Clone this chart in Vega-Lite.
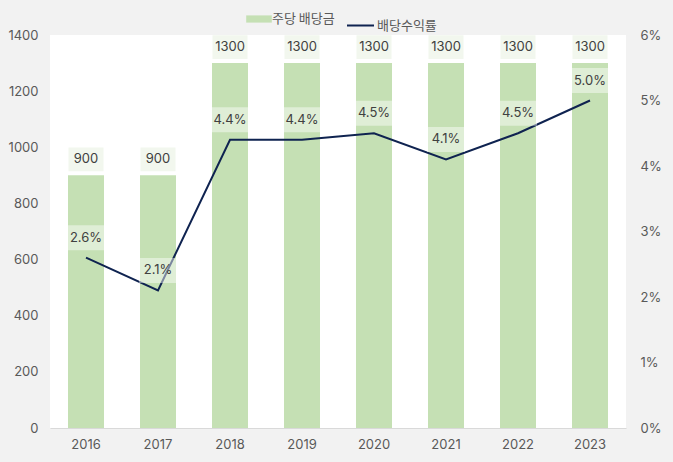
{
  "$schema": "https://vega.github.io/schema/vega-lite/v6.json",
  "width": 576,
  "height": 393,
  "autosize": "none",
  "padding": {"left": 50, "top": 35, "right": 47, "bottom": 34},
  "background": "#f2f2f2",
  "view": {"fill": "#ffffff", "stroke": null},
  "config": {
    "font": "Inter, Noto Sans CJK KR",
    "axis": {"labelFont": "Inter, Noto Sans CJK KR", "labelFontSize": 13, "labelColor": "#595959", "grid": false, "ticks": false, "domain": false, "title": null},
    "legend": {"labelFont": "Noto Sans CJK KR", "labelFontSize": 13, "labelColor": "#595959", "title": null}
  },
  "data": {
    "values": [
      {"year": "2016", "dividend": 900, "rate": 0.026},
      {"year": "2017", "dividend": 900, "rate": 0.021},
      {"year": "2018", "dividend": 1300, "rate": 0.044},
      {"year": "2019", "dividend": 1300, "rate": 0.044},
      {"year": "2020", "dividend": 1300, "rate": 0.045},
      {"year": "2021", "dividend": 1300, "rate": 0.041},
      {"year": "2022", "dividend": 1300, "rate": 0.045},
      {"year": "2023", "dividend": 1300, "rate": 0.05}
    ]
  },
  "encoding": {
    "x": {"field": "year", "type": "ordinal", "scale": {"paddingInner": 0.5, "paddingOuter": 0.25},
      "axis": {"labelAngle": 0, "labelPadding": 10, "domain": true, "domainColor": "#d9d9d9"}}
  },
  "layer": [
    {
      "layer": [
        {
          "mark": {"type": "bar"},
          "encoding": {
            "y": {"field": "dividend", "type": "quantitative", "scale": {"domain": [0, 1400]},
              "axis": {"values": [0, 200, 400, 600, 800, 1000, 1200, 1400], "format": "d", "labelPadding": 12}},
            "fill": {"datum": "주당 배당금", "type": "nominal", "scale": {"range": ["#c5e0b4"]},
              "legend": {"orient": "none", "legendX": 201, "legendY": -24, "symbolType": "M-1.6,-0.45H1.6V0.45H-1.6Z", "symbolSize": 256, "symbolStrokeWidth": 0, "labelOffset": 5}}
          }
        },
        {
          "mark": {"type": "point", "shape": "M-1,-0.68H1V0.68H-1Z", "filled": true, "size": 1225, "color": "#f2f7ee", "opacity": 1, "yOffset": -16},
          "encoding": {"y": {"field": "dividend", "type": "quantitative"}}
        },
        {
          "mark": {"type": "text", "dy": -16, "fontSize": 13, "color": "#404040"},
          "encoding": {"y": {"field": "dividend", "type": "quantitative"}, "text": {"field": "dividend", "type": "quantitative"}}
        }
      ]
    },
    {
      "layer": [
        {
          "mark": {"type": "line", "strokeWidth": 2},
          "encoding": {
            "y": {"field": "rate", "type": "quantitative", "scale": {"domain": [0, 0.06]},
              "axis": {"orient": "right", "format": ".0%", "values": [0, 0.01, 0.02, 0.03, 0.04, 0.05, 0.06], "labelPadding": 14}},
            "stroke": {"datum": "배당수익률", "type": "nominal", "scale": {"range": ["#0f2350"]},
              "legend": {"orient": "none", "legendX": 296, "legendY": -24, "symbolType": "stroke", "symbolStrokeWidth": 2, "symbolSize": 729, "labelOffset": 2}}
          }
        },
        {
          "mark": {"type": "point", "shape": "M-1,-0.66H1V0.66H-1Z", "filled": true, "size": 1444, "color": "#ffffff", "opacity": 0.45, "yOffset": -20},
          "encoding": {"y": {"field": "rate", "type": "quantitative"}}
        },
        {
          "mark": {"type": "text", "dy": -20, "fontSize": 13, "color": "#404040"},
          "encoding": {"y": {"field": "rate", "type": "quantitative"}, "text": {"field": "rate", "type": "quantitative", "format": ".1%"}}
        }
      ]
    }
  ],
  "resolve": {"scale": {"y": "independent", "fill": "independent", "stroke": "independent"}}
}
